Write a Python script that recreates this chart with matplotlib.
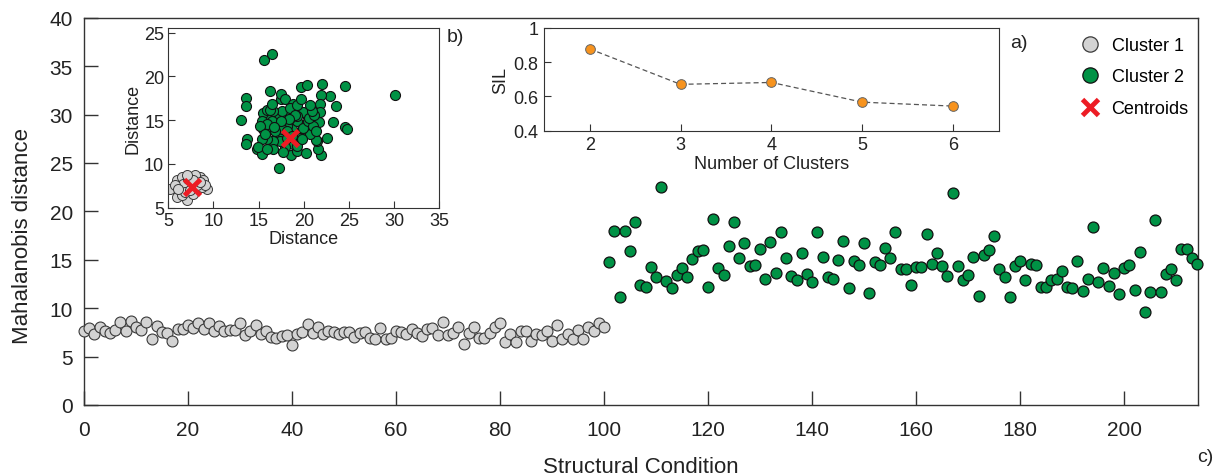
import numpy as np
import matplotlib
matplotlib.use('Agg')
import matplotlib.pyplot as plt
from matplotlib.lines import Line2D

plt.rcParams['font.family'] = ['Liberation Sans', 'DejaVu Sans']

# Main plot (c): Mahalanobis distance per structural condition
cluster1_vals = [
    7.61, 7.92, 7.30, 8.02, 7.61, 7.40, 7.75, 8.61, 7.68, 8.68,
    8.02, 7.75, 8.61, 6.78, 8.20, 7.58, 7.40, 6.65, 7.85, 7.85,
    8.30, 7.92, 8.44, 7.85, 8.44, 7.61, 8.20, 7.68, 7.78, 7.78,
    8.47, 7.27, 7.64, 8.30, 7.33, 7.68, 7.06, 6.89, 7.16, 7.27,
    6.23, 7.30, 7.51, 8.40, 7.44, 8.06, 7.33, 7.68, 7.58, 7.33,
    7.51, 7.58, 6.99, 7.40, 7.51, 6.89, 6.82, 7.92, 6.82, 6.96,
    7.68, 7.58, 7.33, 7.85, 7.40, 7.16, 7.85, 7.92, 7.23, 8.54,
    7.23, 7.44, 8.09, 6.30, 7.44, 8.09, 6.89, 6.89, 7.40, 8.02,
    8.44, 6.47, 7.33, 6.47, 7.61, 7.61, 6.65, 7.33, 7.23, 7.68,
    6.61, 8.26, 6.82, 7.30, 6.82, 7.78, 6.82, 8.09, 7.68, 8.44,
    8.09,
]
cluster2_vals = [
    14.81, 18.01, 11.16, 17.94, 15.91, 18.94, 12.40, 12.19, 14.26, 13.26,
    22.56, 12.81, 12.12, 13.40, 14.12, 13.26, 15.12, 15.94, 15.98, 12.19,
    19.18, 14.12, 13.43, 16.46, 18.94, 15.15, 16.74, 14.33, 14.43, 16.08,
    13.05, 16.87, 13.67, 17.91, 15.15, 13.36, 12.88, 15.67, 13.50, 12.71,
    17.91, 15.26, 13.26, 13.02, 14.98, 16.94, 12.09, 14.88, 14.50, 16.74,
    11.57, 14.77, 14.46, 16.18, 15.15, 17.91, 14.08, 14.05, 12.40, 14.26,
    14.26, 17.67, 14.53, 15.67, 14.36, 13.29, 21.90, 14.33, 12.95, 13.40,
    15.26, 11.23, 15.46, 16.01, 17.49, 14.05, 13.19, 11.19, 14.39, 14.84,
    12.95, 14.60, 14.46, 12.16, 12.19, 12.95, 12.98, 13.88, 12.16, 12.09,
    14.84, 11.78, 13.02, 18.42, 12.67, 14.15, 12.33, 13.60, 11.43, 14.12,
    14.46, 11.88, 15.77, 9.64, 11.67, 19.11, 11.71, 13.50, 14.08, 12.91,
    16.08, 16.08, 15.22, 14.53,
]
cluster1_x = np.arange(len(cluster1_vals))
cluster2_x = np.arange(len(cluster1_vals), len(cluster1_vals) + len(cluster2_vals))

# Inset (b): 2-D distance scatter
b1_x = [5.18, 5.92, 6.48, 7.03, 7.58, 8.14, 8.51, 8.87, 9.24, 5.92, 7.03, 7.77, 8.32, 7.40, 6.29,
        6.66, 8.69, 7.95, 7.21, 5.74, 9.06, 6.48, 6.85, 8.14, 7.40, 6.11, 8.51, 7.77, 7.03]
b1_y = [7.18, 8.12, 8.50, 7.56, 8.50, 8.31, 8.50, 8.12, 7.18, 6.24, 5.86, 6.62, 7.37, 7.74, 6.99,
        7.74, 7.37, 8.68, 8.31, 7.56, 7.56, 6.43, 6.80, 7.56, 6.99, 7.18, 7.93, 8.12, 8.68]
b2_x = [15.63, 16.51, 13.63, 13.56, 13.08, 13.67, 13.56, 16.25, 17.47, 17.44, 17.92, 18.76, 19.69,
        20.31, 22.01, 22.86, 23.60, 24.56, 21.94, 21.79, 21.75, 20.68, 20.31, 19.94, 20.87, 21.68,
        20.57, 19.94, 18.73, 18.10, 19.21, 18.47, 17.73, 16.99, 16.25, 15.44, 15.33, 15.52, 16.25,
        16.99, 17.73, 18.47, 18.84, 17.92, 17.36, 16.62, 15.89, 15.33, 14.78, 15.33, 16.62, 17.21,
        18.58, 19.28, 20.24, 21.86, 21.61, 21.42, 22.53, 23.27, 24.56, 24.74, 30.09, 21.35, 20.68,
        19.58, 19.87, 19.21, 18.28, 17.55, 16.62, 15.89, 18.47, 19.02, 20.50, 21.05, 21.31, 16.99,
        16.44, 15.89, 17.55, 16.81, 19.21, 19.76, 18.10, 16.25, 16.44, 15.15, 15.70, 14.96, 15.89,
        17.73, 20.61, 21.13, 20.87, 19.21, 20.68, 19.65, 18.39, 17.44, 16.73, 18.10, 18.65]
b2_y = [21.92, 22.52, 17.59, 16.65, 15.04, 12.82, 12.26, 18.35, 17.44, 17.97, 17.44, 16.84, 18.83,
        19.02, 19.14, 17.82, 16.65, 18.91, 17.89, 16.84, 15.94, 16.32, 15.64, 15.90, 15.08, 14.77,
        14.51, 13.76, 13.95, 14.32, 14.89, 15.26, 15.08, 15.45, 15.26, 15.83, 14.89, 13.95, 13.95,
        13.38, 13.38, 12.82, 12.26, 11.88, 12.63, 12.63, 12.82, 12.82, 11.69, 11.13, 11.69, 9.59,
        11.02, 11.43, 11.28, 11.02, 11.69, 12.63, 12.93, 14.77, 14.21, 13.95, 17.89, 12.71, 13.38,
        13.01, 14.14, 15.45, 16.02, 16.02, 16.02, 16.20, 16.39, 15.64, 14.96, 14.32, 13.76, 14.51,
        14.89, 14.51, 13.95, 13.76, 12.07, 12.82, 13.01, 16.20, 16.84, 14.32, 13.38, 11.88, 11.69,
        11.32, 15.26, 15.64, 16.02, 16.77, 16.77, 17.44, 15.08, 14.89, 14.21, 13.76, 13.20]
centroid_x = [7.58, 18.5]
centroid_y = [7.37, 13.0]

# Inset (a): silhouette vs number of clusters
n_clusters = [2, 3, 4, 5, 6]
sil_vals = [0.877, 0.670, 0.681, 0.566, 0.543]

gray = '#d3d3d3'
green = '#009245'
red = '#ed1c24'
orange = '#f7931e'
spine_c = '#333333'
text_c = '#222222'

fig = plt.figure(figsize=(12.25, 4.77), dpi=100)

# ---- main axes ----
ax = fig.add_axes([84/1225, 1 - 406/477, (1198 - 84)/1225, (406 - 18.7)/477])
ax.scatter(cluster1_x, cluster1_vals, s=62, c=gray, edgecolors='#3a3a3a', linewidths=0.8,
           clip_on=False, zorder=3)
ax.scatter(cluster2_x, cluster2_vals, s=62, c=green, edgecolors='#111111', linewidths=0.9,
           clip_on=False, zorder=3)
ax.set_xlim(0, 214.2)
ax.set_ylim(0, 40)
ax.set_xticks(range(0, 201, 20))
ax.set_yticks(range(0, 41, 5))
ax.tick_params(direction='in', length=10, width=1, colors=spine_c, labelsize=15,
               labelcolor=text_c)
ax.tick_params(axis='x', pad=11)
ax.tick_params(axis='y', pad=8)
for s in ax.spines.values():
    s.set_color(spine_c)
    s.set_linewidth(1.0)
ax.set_xlabel('Structural Condition', fontsize=16, color=text_c, labelpad=12)
ax.set_ylabel('Mahalanobis distance', fontsize=16, color=text_c)
ax.yaxis.set_label_coords(-0.046, 0.44)

handles = [
    Line2D([], [], marker='o', ls='', ms=11, mfc=gray, mec='#3a3a3a', mew=0.9),
    Line2D([], [], marker='o', ls='', ms=11, mfc=green, mec='#111111', mew=0.9),
    Line2D([], [], marker='x', ls='', ms=12, mec=red, mew=3.5),
]
fig.legend(handles, ['Cluster 1', 'Cluster 2', 'Centroids'], loc='upper left',
           bbox_to_anchor=(1070/1225, 1 - 29/477), frameon=False, fontsize=13,
           handlelength=1.2, handletextpad=0.6, labelspacing=0.8, borderpad=0)

fig.text(1197/1225, 1 - 458/477, 'c)', fontsize=14, va='center', ha='left', color=text_c)

# ---- inset b ----
axb = fig.add_axes([168.3/1225, 1 - 208.7/477, (439.3 - 168.3)/1225, (208.7 - 29.3)/477])
axb.scatter(b1_x, b1_y, s=52, c=gray, edgecolors='#3a3a3a', linewidths=0.7, zorder=2)
axb.scatter(b2_x, b2_y, s=52, c=green, edgecolors='#111111', linewidths=0.8, zorder=2)
axb.plot(centroid_x, centroid_y, ls='', marker='x', ms=11, mec=red, mew=3.5, zorder=4)
axb.set_xlim(5, 35)
axb.set_ylim(5, 25.5)
axb.set_xticks(range(5, 36, 5))
axb.set_yticks(range(5, 26, 5))
axb.tick_params(direction='in', length=5, colors=spine_c, labelsize=13, pad=3,
                labelcolor=text_c)
for s in axb.spines.values():
    s.set_color(spine_c)
axb.set_xlabel('Distance', fontsize=13, labelpad=1, color=text_c)
axb.set_ylabel('Distance', fontsize=13, labelpad=2, color=text_c)
fig.text(447/1225, 1 - 38/477, 'b)', fontsize=14, va='center', ha='left', color=text_c)

# ---- inset a ----
axa = fig.add_axes([544.2/1225, 1 - 131.6/477, (998.6 - 544.2)/1225, (131.6 - 28.8)/477])
axa.plot(n_clusters, sil_vals, ls='--', color='#555555', lw=0.9, marker='o', ms=7,
         mfc=orange, mec='#666666', mew=0.7, dashes=(4, 2.5))
axa.set_xlim(1.5, 6.5)
axa.set_ylim(0.4, 1.0)
axa.set_xticks(n_clusters)
axa.set_yticks([0.4, 0.6, 0.8, 1.0])
axa.set_yticklabels(['0.4', '0.6', '0.8', '1'])
axa.tick_params(direction='in', length=5, colors=spine_c, labelsize=13, pad=4,
                labelcolor=text_c)
for s in axa.spines.values():
    s.set_color(spine_c)
axa.set_xlabel('Number of Clusters', fontsize=13, labelpad=1, color=text_c)
axa.set_ylabel('SIL', fontsize=13, labelpad=3, color=text_c)
fig.text(1010/1225, 1 - 44/477, 'a)', fontsize=14, va='center', ha='left', color=text_c)

fig.savefig('out.png', dpi=100)
